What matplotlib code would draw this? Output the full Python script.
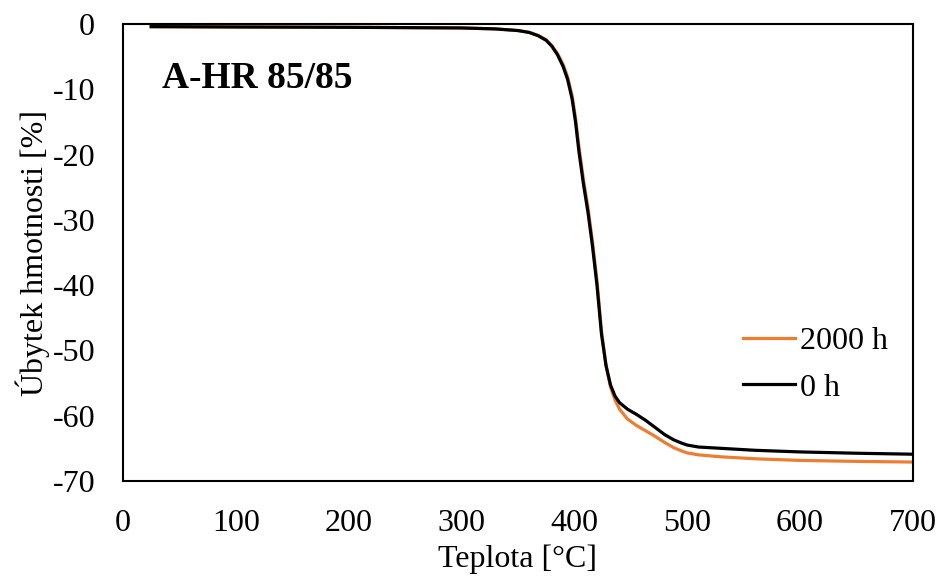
import numpy as np
import matplotlib.pyplot as plt

plt.rcParams['font.family'] = ['Liberation Serif', 'DejaVu Serif']
plt.rcParams['axes.unicode_minus'] = False

# temperature [°C]
temp = [25, 100, 200, 300, 330, 350, 360, 368, 375, 380, 385, 390, 394, 398,
        401, 404, 408, 412, 416, 420, 424, 428, 432, 436, 440, 447, 455, 463,
        470, 480, 488, 495, 500, 510, 530, 560, 600, 650, 700]

# mass loss [%] - 0 h
loss_0h = [-0.4, -0.45, -0.5, -0.6, -0.75, -1.0, -1.3, -1.8, -2.5, -3.4, -4.7,
           -6.5, -8.5, -11.5, -15.0, -19.5, -24.5, -28.8, -34.0, -40.0, -47.5,
           -52.3, -55.3, -57.0, -58.0, -59.0, -59.8, -60.7, -61.6, -62.9, -63.7,
           -64.2, -64.5, -64.8, -65.0, -65.3, -65.55, -65.75, -65.9]

# mass loss [%] - 2000 h
loss_2000h = [-0.4, -0.45, -0.5, -0.6, -0.75, -1.0, -1.25, -1.75, -2.4, -3.3, -4.5,
              -6.2, -8.1, -11.0, -14.4, -18.8, -23.8, -28.1, -33.3, -39.3, -47.0,
              -52.3, -55.6, -57.6, -59.0, -60.5, -61.5, -62.3, -63.0, -64.1, -64.9,
              -65.4, -65.7, -66.0, -66.3, -66.6, -66.85, -67.0, -67.1]

fig = plt.figure(figsize=(9.41, 5.79), dpi=100)
ax = fig.add_axes([0.1307, 0.1693, 0.8395, 0.7892])

ax.plot(temp, loss_2000h, color='#ED7D31', lw=2.3, label='2000 h')
ax.plot(temp, loss_0h, color='black', lw=2.3, label='0 h')

ax.set_xlim(0, 700)
ax.set_ylim(-70, 0)
ax.set_xticks(np.arange(0, 701, 100))
ax.set_yticks(np.arange(-70, 1, 10))
ax.tick_params(length=0, labelsize=23, pad=20)
for s in ax.spines.values():
    s.set_linewidth(1.5)

ax.set_xlabel('Teplota [°C]', fontsize=23, labelpad=5)
ax.set_ylabel('Úbytek hmotnosti [%]', fontsize=23, labelpad=2)

ax.text(35, -8.3, 'A-HR 85/85', fontsize=27, fontweight='bold', va='center', ha='left')

ax.legend(loc='upper left', bbox_to_anchor=(743 / 941, 1 - 327 / 579),
          bbox_transform=fig.transFigure, frameon=False, fontsize=23,
          handlelength=1.63, handletextpad=0.15, labelspacing=0.53, borderaxespad=0,
          borderpad=0)

fig.savefig('out.png', dpi=100)
